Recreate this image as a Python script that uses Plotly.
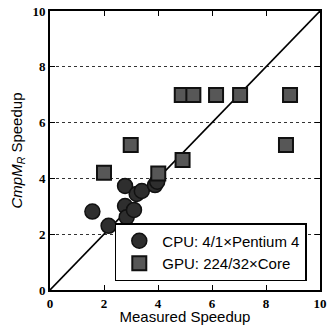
import plotly.graph_objects as go

cpu_x = [1.57, 2.17, 2.78, 2.78, 2.84, 3.11, 3.21, 3.40, 3.89, 3.97]
cpu_y = [2.81, 2.30, 3.73, 3.01, 2.61, 2.87, 3.44, 3.55, 3.76, 3.88]
gpu_x = [2.00, 2.99, 4.01, 4.91, 4.88, 5.31, 6.15, 7.04, 8.89, 8.74]
gpu_y = [4.20, 5.20, 4.18, 4.66, 6.99, 6.99, 6.99, 6.99, 6.99, 5.20]
diag = [0, 10]
ticks = [0, 2, 4, 6, 8, 10]

fig = go.Figure()
fig.add_trace(go.Scatter(x=diag, y=diag, mode="lines", line=dict(color="black", width=1.6),
                         showlegend=False, hoverinfo="skip"))
fig.add_trace(go.Scatter(x=cpu_x, y=cpu_y, mode="markers", name="CPU: 4/1×Pentium 4",
                         marker=dict(symbol="circle", size=15, color="#2e2e2e",
                                     line=dict(color="#111111", width=1.5))))
fig.add_trace(go.Scatter(x=gpu_x, y=gpu_y, mode="markers", name="GPU: 224/32×Core",
                         marker=dict(symbol="square", size=14, color="#575757",
                                     line=dict(color="#111111", width=2))))

tickfont = dict(family="Liberation Serif", size=13, color="black", weight="bold")
fig.update_layout(
    width=327, height=325,
    margin=dict(l=50, r=7, t=11, b=35),
    plot_bgcolor="white", paper_bgcolor="white",
    xaxis=dict(range=[0, 10], tickvals=ticks, ticks="inside", ticklen=5, tickwidth=1.2,
               tickcolor="black", showgrid=False, zeroline=False, showline=True,
               linecolor="black", linewidth=2, mirror="ticks", tickfont=tickfont,
               automargin=False,
               title=dict(text="Measured Speedup", standoff=4,
                          font=dict(family="Liberation Sans", size=15, color="black"))),
    yaxis=dict(range=[0, 10], tickvals=ticks, ticks="inside", ticklen=5, tickwidth=1.2,
               tickcolor="black", showgrid=True, gridcolor="#333333", griddash="dot",
               gridwidth=1.2, zeroline=False, showline=True, automargin=False,
               linecolor="black", linewidth=2, mirror="ticks", tickfont=tickfont,
               title=dict(text="<i>CmpM</i><sub><i>R</i></sub> Speedup", standoff=6,
                          font=dict(family="Liberation Sans", size=15, color="black"))),
    legend=dict(x=0.24, y=0.24, xanchor="left", yanchor="top",
                bgcolor="white", bordercolor="black", borderwidth=1.5,
                font=dict(family="Liberation Sans", size=15, color="black"),
                itemwidth=36, tracegroupgap=10),
)
fig.write_html("out.html", config={"displayModeBar": False},
               post_script="document.body.style.margin='0';document.body.style.overflow='hidden';")
